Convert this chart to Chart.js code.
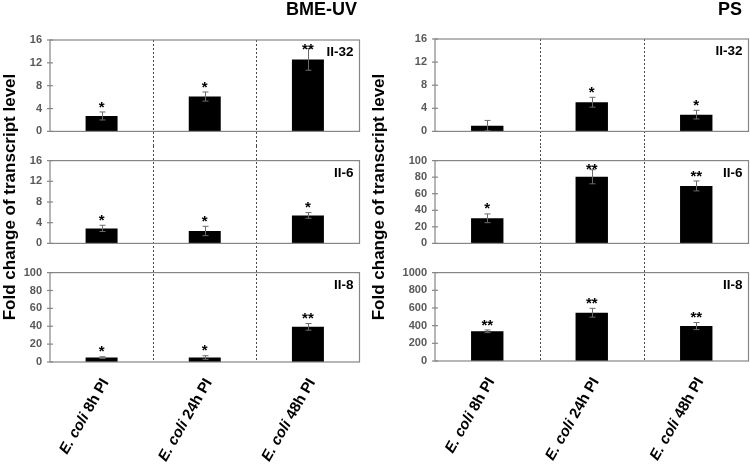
<!DOCTYPE html>
<html><head><meta charset="utf-8">
<script src="https://cdn.jsdelivr.net/npm/chart.js@4/dist/chart.umd.min.js"></script>
<style>
body{margin:0;background:#fff;width:750px;height:467px;overflow:hidden;position:relative;font-family:"Liberation Sans",Arial,sans-serif}
canvas{position:absolute}
.t{position:absolute;font-weight:bold;color:#000;white-space:nowrap;z-index:2}
.yt{position:absolute;width:300px;text-align:center;font-weight:bold;font-size:17px;line-height:20px;height:20px;transform:rotate(-90deg);transform-origin:150px 10px;white-space:nowrap;z-index:2}
</style></head><body>
<div class="t" style="right:393px;top:0;font-size:18px;line-height:18px">BME-UV</div>
<div class="t" style="right:8px;top:0;font-size:18px;line-height:18px">PS</div>
<div class="yt" style="left:-140px;top:187px">Fold change of transcript level</div>
<div class="yt" style="left:229px;top:187px">Fold change of transcript level</div>
<canvas id="l1" width="368" height="146" style="left:0;top:0"></canvas>
<canvas id="l2" width="368" height="112" style="left:0;top:146px"></canvas>
<canvas id="l3" width="368" height="209" style="left:0;top:258px"></canvas>
<canvas id="r1" width="382" height="146" style="left:368px;top:0"></canvas>
<canvas id="r2" width="382" height="112" style="left:368px;top:146px"></canvas>
<canvas id="r3" width="382" height="209" style="left:368px;top:258px"></canvas>
<script>
// ---- data ----
const categories = ['E. coli 8h PI', 'E. coli 24h PI', 'E. coli 48h PI'];
const genes = ['II-32', 'II-6', 'II-8'];
const panels = ['BME-UV', 'PS'];

// BME-UV
const bmeIL32 = [2.7, 6.1, 12.6];
const bmeIL32Err = [0.7, 0.8, 1.9];
const bmeIL32Sig = ['*', '*', '**'];
const bmeIL6 = [2.9, 2.4, 5.4];
const bmeIL6Err = [0.6, 0.9, 0.55];
const bmeIL6Sig = ['*', '*', '*'];
const bmeIL8 = [4.9, 5.0, 39.3];
const bmeIL8Err = [1.0, 2.0, 3.7];
const bmeIL8Sig = ['*', '*', '**'];

// PS
const psIL32 = [1.0, 5.05, 2.9];
const psIL32Err = [0.9, 0.85, 0.75];
const psIL32Sig = ['', '*', '*'];
const psIL6 = [30.3, 80.5, 69.4];
const psIL6Err = [5.3, 8.5, 6.0];
const psIL6Sig = ['*', '**', '**'];
const psIL8 = [336, 546, 395];
const psIL8Err = [15, 50, 40];
const psIL8Sig = ['**', '**', '**'];

// y-axis tick values
const ticks16 = [0, 4, 8, 12, 16];
const ticks100 = [0, 20, 40, 60, 80, 100];
const ticks1000 = [0, 200, 400, 600, 800, 1000];

const FONT = '"Liberation Sans", Arial, sans-serif';

const panelPlugin = {
  id: 'panel',
  afterDatasetsDraw(chart) {
    const o = chart.options.plugins.panel;
    const { ctx, chartArea: a, scales: { x, y } } = chart;
    const ds = chart.data.datasets[0].data;
    ctx.save();
    // dashed separators
    ctx.strokeStyle = '#4a4a4a';
    ctx.lineWidth = 1;
    ctx.setLineDash([2, 2]);
    for (let i = 0; i < ds.length - 1; i++) {
      const bx = Math.round((x.getPixelForValue(i) + x.getPixelForValue(i + 1)) / 2) + 0.5;
      const y0 = o.pos === 'top' ? a.top : 0;
      const y1 = o.pos === 'bottom' ? a.bottom : chart.height;
      ctx.beginPath(); ctx.moveTo(bx, y0); ctx.lineTo(bx, y1); ctx.stroke();
    }
    ctx.setLineDash([]);
    // error bars
    ctx.strokeStyle = '#6b6b6b';
    ctx.lineWidth = 1;
    ds.forEach((v, i) => {
      const e = o.errors[i];
      const cx = Math.round(x.getPixelForValue(i)) + 0.5;
      const yt = y.getPixelForValue(v + e), yb = y.getPixelForValue(Math.max(0, v - e));
      ctx.beginPath();
      ctx.moveTo(cx, yt); ctx.lineTo(cx, yb);
      ctx.moveTo(cx - 3, yt); ctx.lineTo(cx + 3, yt);
      ctx.moveTo(cx - 3, yb); ctx.lineTo(cx + 3, yb);
      ctx.stroke();
    });
    // box
    ctx.strokeStyle = '#868686';
    ctx.lineWidth = 1.2;
    ctx.strokeRect(a.left, a.top, a.right - a.left, a.bottom - a.top);
    // tick marks crossing the y axis
    y.ticks.forEach(t => {
      const ty = y.getPixelForValue(t.value);
      ctx.beginPath(); ctx.moveTo(a.left - 3, ty); ctx.lineTo(a.left + 3, ty); ctx.stroke();
    });
    // gene label
    ctx.fillStyle = '#000';
    ctx.font = 'bold 13.5px ' + FONT;
    ctx.textAlign = 'right';
    ctx.textBaseline = 'alphabetic';
    ctx.fillText(o.gene, a.right - 6, a.top + 16);
    // significance stars
    ctx.font = 'bold 15px ' + FONT;
    ctx.textAlign = 'center';
    ds.forEach((v, i) => {
      const s = o.sig[i];
      if (!s) return;
      const cx = x.getPixelForValue(i);
      let c = y.getPixelForValue(v + o.errors[i]) - 9;
      c = Math.max(c, a.top + 5);
      ctx.fillText(s, cx, c + 0.57 * 15);
    });
    // category labels (bottom subplot)
    if (o.pos === 'bottom') {
      const f1 = 'italic bold 15px ' + FONT, f2 = 'bold 15px ' + FONT;
      chart.data.labels.forEach((lab, i) => {
        const m = lab.match(/^(E\. coli)(.*)$/);
        const p1 = m ? m[1] : '', p2 = m ? m[2] : lab;
        ctx.save();
        ctx.translate(x.getPixelForValue(i) + 4, a.bottom + 18);
        ctx.rotate(-Math.PI / 3);
        ctx.textBaseline = 'middle';
        ctx.textAlign = 'left';
        ctx.font = f1; const w1 = ctx.measureText(p1).width;
        ctx.font = f2; const w2 = ctx.measureText(p2).width;
        ctx.font = f1; ctx.fillText(p1, -(w1 + w2), 0);
        ctx.font = f2; ctx.fillText(p2, -w2, 0);
        ctx.restore();
      });
    }
    ctx.restore();
  }
};

function makeChart(id, values, errors, sig, gene, tickVals, pos, padding) {
  const yMax = tickVals[tickVals.length - 1];
  const step = tickVals[1] - tickVals[0];
  return new Chart(document.getElementById(id), {
    type: 'bar',
    data: {
      labels: categories,
      datasets: [{ data: values, backgroundColor: '#000', borderWidth: 0,
        barPercentage: 0.31, categoryPercentage: 1 }]
    },
    options: {
      responsive: false, animation: false,
      layout: { padding },
      plugins: { legend: { display: false }, tooltip: { enabled: false },
        panel: { errors, sig, gene, pos } },
      scales: {
        x: { display: false, offset: true },
        y: {
          min: 0, max: yMax,
          afterFit: s => { s.width = 50; },
          grid: { display: false, drawTicks: false },
          border: { display: false },
          ticks: { stepSize: step, padding: 8, color: '#595959',
            callback: v => String(v),
            font: { family: FONT, size: 11, weight: 'bold' } }
        }
      }
    },
    plugins: [panelPlugin]
  });
}

makeChart('l1', bmeIL32, bmeIL32Err, bmeIL32Sig, genes[0], ticks16, 'top', { left: 0, right: 8.5, top: 40, bottom: 9 });
makeChart('l2', bmeIL6, bmeIL6Err, bmeIL6Sig, genes[1], ticks16, 'mid', { left: 0, right: 8.5, top: 8, bottom: 8 });
makeChart('l3', bmeIL8, bmeIL8Err, bmeIL8Sig, genes[2], ticks100, 'bottom', { left: 0, right: 8.5, top: 8, bottom: 105 });
makeChart('r1', psIL32, psIL32Err, psIL32Sig, genes[0], ticks16, 'top', { left: 17, right: 1.5, top: 39, bottom: 11 });
makeChart('r2', psIL6, psIL6Err, psIL6Sig, genes[1], ticks100, 'mid', { left: 17, right: 1.5, top: 8, bottom: 10 });
makeChart('r3', psIL8, psIL8Err, psIL8Sig, genes[2], ticks1000, 'bottom', { left: 17, right: 1.5, top: 8, bottom: 106 });
</script>
</body></html>
